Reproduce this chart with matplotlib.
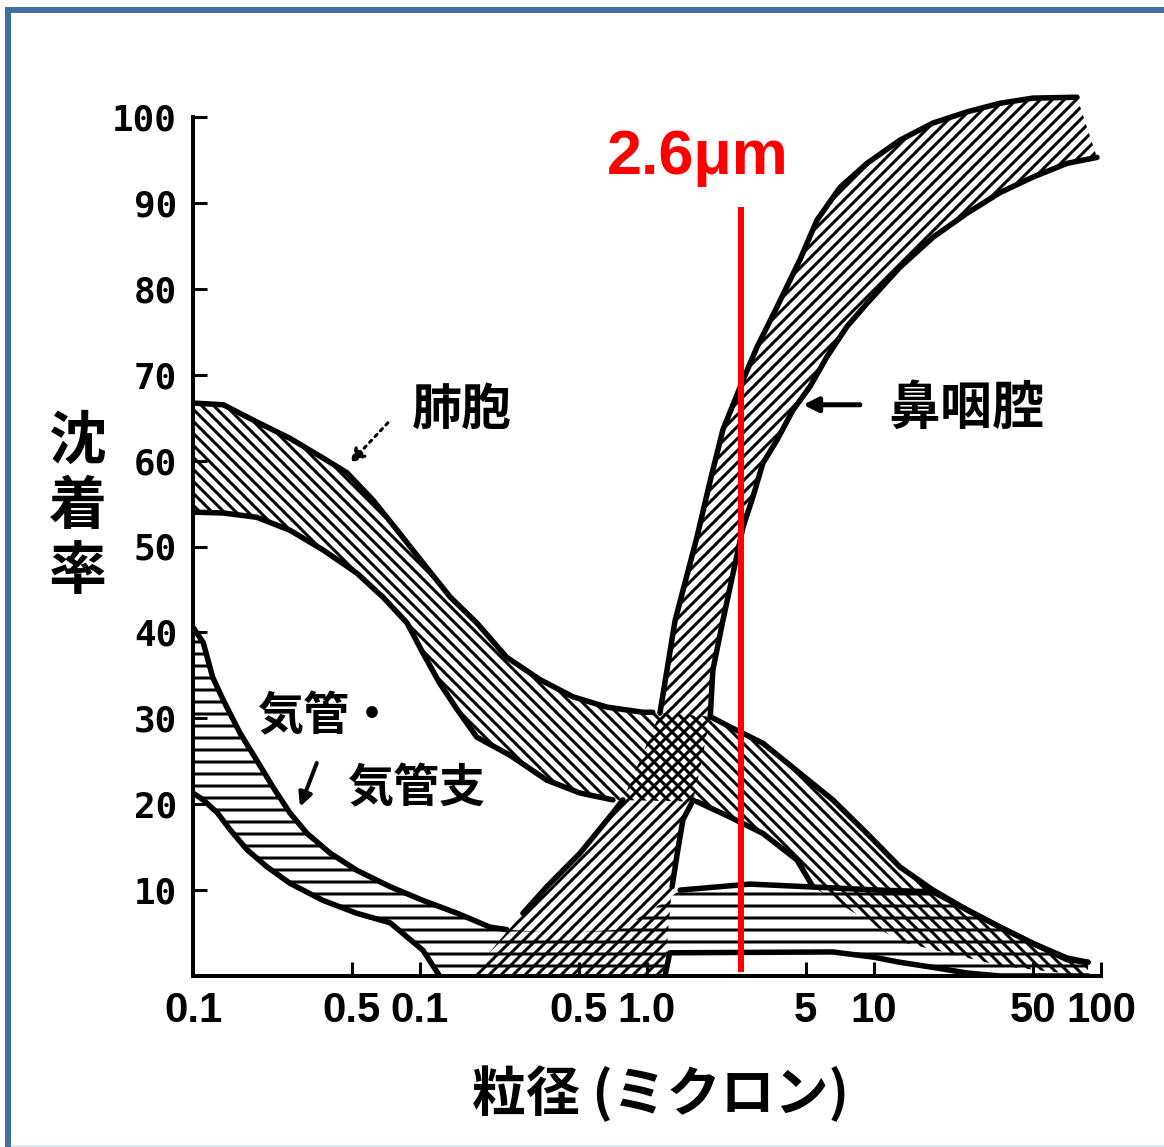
import matplotlib
matplotlib.use("Agg")
import matplotlib.pyplot as plt
from matplotlib.patches import Rectangle
from matplotlib.ticker import NullLocator

W, H, DPI = 1164, 1147, 72

plt.rcParams['font.family'] = ['Noto Sans CJK JP', 'DejaVu Sans']
plt.rcParams['hatch.linewidth'] = 3.0
plt.rcParams['hatch.color'] = 'black'

# Deposition (%) vs particle size (µm): upper and lower edge of each band
# Alveolar (肺胞)
alv_top_x = [0.01, 0.0136, 0.0191, 0.0267, 0.0374, 0.0476, 0.0621, 0.0793, 0.103, 0.136,
             0.178, 0.241, 0.338, 0.472, 0.667, 0.959, 1.06, 1.90, 2.32, 3.24,
             4.72, 6.59, 9.31, 13.0, 18.2, 25.7, 35.9, 50.1, 70.8, 87.7]
alv_top_y = [66.7, 66.5, 64.5, 62.6, 60.3, 58.6, 55.4, 51.9, 48.1, 44.1,
             41.1, 37.1, 34.5, 32.5, 31.3, 30.7, 30.7, 30.2, 29.0, 27.1,
             23.6, 20.5, 16.6, 12.7, 10.0, 7.7, 5.7, 3.8, 1.9, 1.6]
alv_bot_x = [0.01, 0.0136, 0.0191, 0.0267, 0.0374, 0.0527, 0.0687, 0.0877, 0.103, 0.122,
             0.146, 0.178, 0.249, 0.362, 0.507, 0.708, 1.06, 1.66, 2.32, 3.24,
             4.58, 5.38, 13.0, 35.9, 87.7]
alv_bot_y = [54.0, 53.9, 53.4, 51.9, 49.6, 46.9, 44.1, 41.1, 37.6, 34.1,
             31.0, 27.8, 25.7, 22.8, 21.3, 20.5, 20.4, 20.3, 18.5, 16.6,
             13.5, 10.4, 4.0, 1.2, 0.0]

# Nasopharyngeal (鼻咽腔)
np_left_x = [0.166, 0.225, 0.284, 0.362, 0.507, 0.708, 0.783, 1.14, 1.26, 1.33,
             1.66, 1.90, 2.16, 2.65, 3.05, 3.74, 4.72, 5.61, 7.08, 9.31,
             13.0, 18.2, 25.7, 35.9, 50.1, 78.4]
np_left_y = [0.0, 4.2, 7.3, 10.4, 14.3, 19.0, 20.5, 30.6, 37.6, 41.4,
             51.1, 57.7, 63.6, 69.4, 73.2, 77.9, 83.4, 88.0, 91.8, 94.6,
             97.3, 99.3, 100.6, 101.6, 102.2, 102.3]
np_right_x = [1.20, 1.24, 1.29, 1.36, 1.44, 1.60, 1.71, 1.90, 1.95, 2.16,
              2.65, 2.93, 3.24, 3.74, 4.40, 5.22, 6.21, 7.60, 9.31, 13.0,
              18.2, 25.7, 35.9, 50.1, 70.8, 96.0]
np_right_y = [0.0, 5.4, 10.4, 14.3, 18.2, 20.5, 24.0, 30.2, 35.6, 41.4,
              52.3, 55.8, 59.7, 62.4, 65.9, 68.6, 72.1, 75.6, 78.3, 82.5,
              86.0, 88.8, 91.2, 93.0, 94.6, 95.3]

# Trachea / bronchi (気管・気管支)
tb_top_x = [0.01, 0.0111, 0.0122, 0.0136, 0.0161, 0.0191, 0.0225, 0.0267, 0.0318, 0.0402,
            0.0527, 0.0738, 0.103, 0.146, 0.203, 0.241, 0.414, 0.760, 1.14, 1.40,
            2.84, 10.6, 18.2, 25.7, 35.9, 50.1, 70.8, 87.7]
tb_top_y = [40.6, 38.8, 34.8, 32.1, 28.3, 25.1, 22.0, 19.0, 16.6, 14.3,
            12.3, 10.4, 8.8, 7.3, 5.7, 5.4, 5.0, 5.4, 8.3, 10.0,
            10.7, 10.0, 9.8, 7.7, 5.7, 3.8, 2.1, 1.6]
tb_bot_x = [0.01, 0.0111, 0.0128, 0.0146, 0.0173, 0.0212, 0.0267, 0.0374, 0.0527, 0.0738,
            0.103, 0.122, 1.20, 1.26, 6.59, 9.91, 13.0, 18.2, 25.7, 35.9, 87.7]
tb_bot_y = [21.3, 20.5, 19.0, 17.0, 14.7, 12.7, 10.8, 8.8, 7.3, 6.2,
            3.0, 0.0, 0.0, 2.7, 2.8, 2.2, 1.6, 1.0, 0.35, 0.0, 0.0]

# Axis ticks and labels
x_ticks = [0.01, 0.05, 0.1, 0.5, 1, 5, 10, 50, 100]
x_tick_labels = ['0.1', '0.5', '0.1', '0.5', '1.0', '5', '10', '50', '100']
y_ticks = [10, 20, 30, 40, 50, 60, 70, 80, 90, 100]
y_tick_labels = ['10', '20', '30', '40', '50', '60', '70', '80', '90', '100']

marker_size = 2.6   # µm, highlighted particle size
x_title = '粒径 (ミクロン)'
y_title = '沈着率'

fig = plt.figure(figsize=(W / DPI, H / DPI), dpi=DPI)
fig.patch.set_facecolor('white')

px_per_pct = (976 - 117) / 100.0
ax = fig.add_axes([193 / W, 1 - 976 / H, 908 / W, 886 / H])
ax.set_xscale('log')
ax.set_xlim(0.01, 100)
ax.set_ylim(0, 886 / px_per_pct)
ax.patch.set_alpha(0)

for s in ('top', 'right'):
    ax.spines[s].set_visible(False)
for s in ('left', 'bottom'):
    ax.spines[s].set_linewidth(4)
ax.spines['left'].set_bounds(0, 100)

# hatched bands
bands = [
    (alv_top_x, alv_top_y, alv_bot_x, alv_bot_y, '\\\\'),
    (np_left_x, np_left_y, np_right_x, np_right_y, '//'),
    (tb_top_x, tb_top_y, tb_bot_x, tb_bot_y, '-'),
]
for tx, ty, bx, by, hatch in bands:
    ax.fill(tx + bx[::-1], ty + by[::-1], facecolor='none', edgecolor='black',
            linewidth=0, hatch=hatch, zorder=2)

# outlines (segments that run inside another band are left open)
edge_kw = dict(color='black', lw=5.5, solid_capstyle='round',
               solid_joinstyle='round', zorder=3)
outlines = [
    (alv_top_x, alv_top_y, [(0, 17), (17, None)]),
    (alv_bot_x, alv_bot_y, [(0, 16), (17, 22)]),
    (np_left_x, np_left_y, [(2, 7), (7, None)]),
    (np_right_x, np_right_y, [(2, 6), (7, None)]),
    (tb_top_x, tb_top_y, [(0, 16), (19, None)]),
    (tb_bot_x, tb_bot_y, [(0, 12), (12, None)]),
]
for xs, ys, segs in outlines:
    for a, b in segs:
        ax.plot(xs[a:b], ys[a:b], **edge_kw)

# ticks
ax.set_xticks(x_ticks)
ax.set_xticklabels(x_tick_labels, fontfamily=['Liberation Sans', 'DejaVu Sans'],
                   fontweight='bold', fontsize=42)
ax.xaxis.set_minor_locator(NullLocator())
ax.set_yticks(y_ticks)
ax.set_yticklabels(y_tick_labels, fontfamily=['DejaVu Sans Mono'],
                   fontweight='bold', fontsize=36)
ax.tick_params(axis='both', direction='in', length=14, width=3, color='black')
ax.tick_params(axis='x', pad=15)
ax.tick_params(axis='y', pad=16)

# highlighted particle size
ax.plot([marker_size, marker_size], [0.5, 89.5], color='#ff0000', lw=6,
        solid_capstyle='butt', zorder=10)
ax.text(1.68, 95.3, f'{marker_size}μm', color='#ff0000', fontsize=63,
        fontweight='bold', fontfamily=['Liberation Sans', 'DejaVu Sans'],
        ha='center', va='center', zorder=10)

# region labels
lab_kw = dict(fontweight='bold', ha='center', va='center', color='black', zorder=6)
ax.text(0.153, 65.9, '肺胞', fontsize=50, **lab_kw)
ax.text(25.4, 66.1, '鼻咽腔', fontsize=52, **lab_kw)
ax.text(0.0389, 30.2, '気管・', fontsize=46, **lab_kw)
ax.text(0.0970, 21.9, '気管支', fontsize=46, **lab_kw)

ax.annotate('', xy=(0.0492, 59.7), xytext=(0.0722, 64.4),
            arrowprops=dict(arrowstyle='-|>', color='black', lw=3, linestyle=':',
                            mutation_scale=30, shrinkA=0, shrinkB=0), zorder=6)
ax.annotate('', xy=(4.87, 66.5), xytext=(8.67, 66.5),
            arrowprops=dict(arrowstyle='-|>', color='black', lw=5,
                            mutation_scale=30, shrinkA=0, shrinkB=0), zorder=6)
ax.annotate('', xy=(0.0296, 19.7), xytext=(0.0351, 24.8),
            arrowprops=dict(arrowstyle='-|>', color='black', lw=4,
                            mutation_scale=28, shrinkA=0, shrinkB=0), zorder=6)

# axis titles
for i, ch in enumerate(y_title):
    fig.text(78 / W, 1 - (442 + 65 * i) / H, ch, fontsize=58, fontweight='bold',
             ha='center', va='center')
fig.text(660 / W, 1 - 1095 / H, x_title, fontsize=54, fontweight='bold',
         ha='center', va='center')

# frame
blue = '#41719c'
fig.add_artist(Rectangle((5 / W, 1 - 13 / H), (W - 5) / W, 6 / H,
                         transform=fig.transFigure, facecolor=blue, edgecolor='none'))
fig.add_artist(Rectangle((5 / W, 0), 6 / W, (H - 7) / H,
                         transform=fig.transFigure, facecolor=blue, edgecolor='none'))
fig.add_artist(Rectangle((11 / W, 0), (W - 11) / W, 2 / H,
                         transform=fig.transFigure, facecolor='#dfe8f1', edgecolor='none'))

fig.savefig('out.png', dpi=DPI, facecolor='white')
